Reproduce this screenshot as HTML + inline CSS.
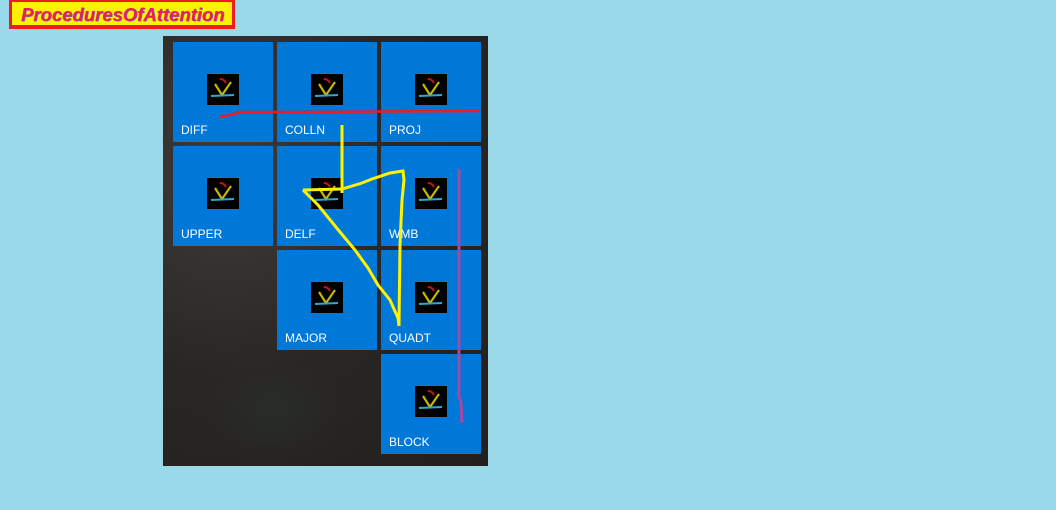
<!DOCTYPE html>
<html><head><meta charset="utf-8">
<style>
html,body{margin:0;padding:0;}
body{width:1056px;height:510px;background:#99d9ea;position:relative;overflow:hidden;font-family:"Liberation Sans",sans-serif;}
#title{position:absolute;left:9px;top:0;width:220px;height:23px;border:3px solid #ed1c24;border-top-width:2px;border-bottom-width:4px;background:#fff200;}
#title span{position:absolute;left:9px;top:2px;font-size:18.5px;font-weight:bold;font-style:italic;color:#e8205a;text-shadow:0.7px 0.7px 0 #7a5fc0;}
#panel{position:absolute;left:163px;top:36px;width:325px;height:430px;background:radial-gradient(ellipse at 20% 30%,#3e3c3a 0%,#2a2624 50%,#221f1d 100%);}
#panel::after{content:"";position:absolute;left:40px;top:320px;width:140px;height:110px;background:radial-gradient(ellipse,rgba(40,70,60,.25),rgba(0,0,0,0) 70%);}
.tile{position:absolute;width:100px;height:100px;background:#0078d7;}
.tile .ic{position:absolute;left:34px;top:32px;width:32px;height:31px;background:#000;}
.tile .lb{position:absolute;left:8px;top:81px;color:#fff;font-size:12px;}
svg{position:absolute;left:0;top:0;}
</style></head><body>
<div id="title"><span>ProceduresOfAttention</span></div>
<div id="panel"></div>
<div id="tiles"></div>
<svg width="1056" height="510">
<polyline points="220,117 230,115 240,112 300,112 480,111" fill="none" stroke="#ed1c24" stroke-width="2.5"/>
<polyline points="342,125 342,193" fill="none" stroke="#fff200" stroke-width="3"/>
<polyline points="303,190 342,189 362,183 372,179 390,173 403,171 404,180 402,200 400,245 399,326 398,318 390,300 378,285 368,268 355,250 340,232 318,205 303,190" fill="none" stroke="#fff200" stroke-width="3"/>
<polyline points="459,169 459,397 461,402 462,423" fill="none" stroke="#a349a4" stroke-width="3"/>
</svg>
<script>
const tiles=[["DIFF",0,0],["COLLN",1,0],["PROJ",2,0],["UPPER",0,1],["DELF",1,1],["WMB",2,1],["MAJOR",1,2],["QUADT",2,2],["BLOCK",2,3]];
const c=document.getElementById('tiles');
const icon='<svg width="32" height="31" style="position:absolute;left:0;top:0"><path d="M13 5 Q17 5 19 9" stroke="#c8102e" stroke-width="2" fill="none"/><path d="M8 10 L15 21 L24 8" stroke="#c8b400" stroke-width="2.2" fill="none"/><path d="M4 22 L27 21" stroke="#29a8e0" stroke-width="2" fill="none"/></svg>';
tiles.forEach(t=>{
 const d=document.createElement('div');d.className='tile';
 
 
 d.style.left=(173+t[1]*104)+'px';d.style.top=(42+t[2]*104)+'px';
 d.innerHTML='<div class="ic">'+icon+'</div><div class="lb">'+t[0]+'</div>';
 c.appendChild(d);
});
</script>
</body></html>
